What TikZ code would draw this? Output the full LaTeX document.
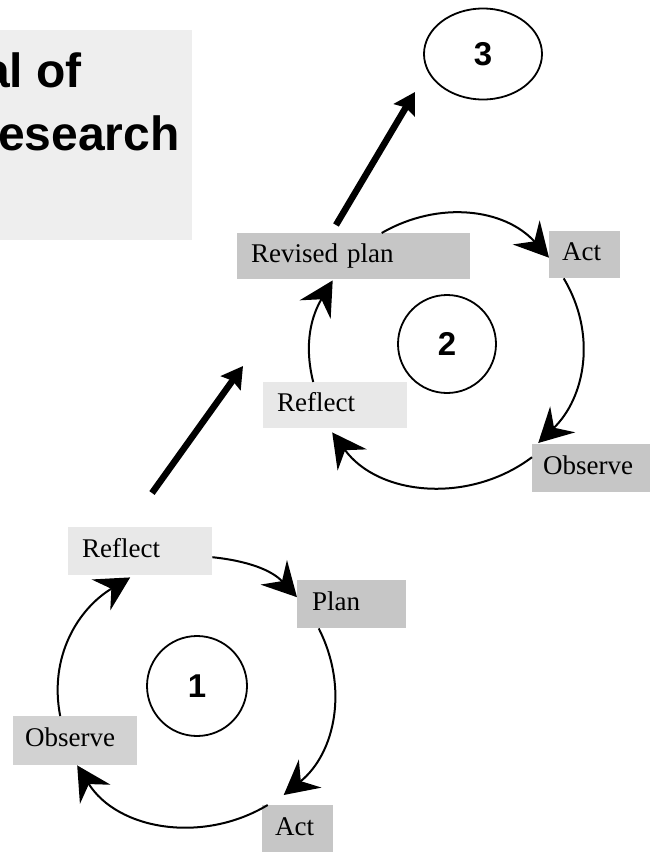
\documentclass[tikz,border=0pt]{standalone}
\usepackage{fontspec}
\setmainfont{Liberation Serif}
\setsansfont{Liberation Sans}
\usetikzlibrary{arrows.meta,shapes.geometric}
\definecolor{midgray}{HTML}{C6C6C6}
\definecolor{lightgray2}{HTML}{E8E8E8}
\definecolor{obsgray}{HTML}{D2D2D2}
\definecolor{titlegray}{HTML}{EEEEEE}
\tikzset{
  x=1pt, y=-1pt,
  lbl/.style={anchor=north west, inner xsep=14pt, inner ysep=0pt, align=left,
    font=\fontsize{27}{30}\selectfont, text height=18pt, text depth=6pt},
  boxA/.style={lbl, fill=midgray},
  boxB/.style={lbl, fill=lightgray2},
  boxC/.style={lbl, fill=obsgray},
  numfont/.style={font=\sffamily\bfseries\fontsize{33}{36}\selectfont},
  num/.style={circle, draw, line width=1.8pt, minimum size=98pt, inner sep=0pt, numfont},
  cyc/.style={line width=2pt, -{Stealth[length=34pt,width=36pt,inset=12pt]}},
  big/.style={line width=6.5pt, -{Stealth[length=21pt,width=24pt,inset=3pt]}},
}
\begin{document}
\begin{tikzpicture}
\useasboundingbox (0,0) rectangle (650,852);
\clip (0,0) rectangle (650,852);
% title panel
\fill[titlegray] (0,30) rectangle (192,240);
\node[anchor=base west, inner sep=0pt, font=\sffamily\bfseries\fontsize{48}{50}\selectfont] (t1) at (-17,87) {al of};
\node[anchor=base west, inner sep=0pt, font=\sffamily\bfseries\fontsize{48}{50}\selectfont] (t2) at (-2,150) {esearch};

% cycle 3
\node[ellipse, draw, line width=1.8pt, minimum width=118pt, minimum height=91pt, inner sep=0pt, numfont] (e3) at (483,54) {3};

% cycle 2
\node[boxA, text width=205pt, minimum height=46pt] (revised) at (237,233) {Revised plan};
\node[boxA, inner xsep=13pt, text width=45pt, minimum height=47pt] (act2) at (549,231) {Act};
\node[boxA, inner xsep=11pt, text width=100pt, minimum height=48pt] (obs2) at (532,444) {Observe};
\node[boxB, text width=116pt, minimum height=46pt] (refl2) at (263,382) {Reflect};
\node[num] (c2) at (447,344) {2};

% cycle 1
\node[boxB, text width=116pt, minimum height=48pt] (refl1) at (68,527) {Reflect};
\node[boxA, inner xsep=15pt, text width=79pt, minimum height=48pt] (plan1) at (297,580) {Plan};
\node[boxC, inner xsep=12pt, text width=100pt, minimum height=49pt] (obs1) at (13,716) {Observe};
\node[boxA, inner xsep=13pt, text width=45pt, minimum height=48pt] (act1) at (262,805) {Act};
\node[num, minimum size=100pt] (c1) at (197,686) {1};

% thick arrows between cycles
\coordinate (m1) at (152,493);
\coordinate (m2) at (243,366);
\coordinate (u1) at (336,225);
\coordinate (u2) at (415,92);
\draw[big] (m1) -- (m2);
\draw[big] (u1) -- (u2);

% cycle 1 arcs
\draw[cyc] ([yshift=-6pt]refl1.east) to[out=-6, in=133] ([yshift=7pt]plan1.west);
\draw[cyc] ([xshift=-33pt]plan1.south) to[out=-63, in=39] ([xshift=-14pt,yshift=10pt]act1.north);
\draw[cyc] ([xshift=-30pt]act1.north) to[out=-149, in=-58] ([xshift=2pt]obs1.south);
\draw[cyc] ([xshift=-15pt]obs1.north) to[out=101, in=211] ([xshift=-10pt,yshift=-2pt]refl1.south);

% cycle 2 arcs
\draw[cyc] ([xshift=28pt]revised.north) to[out=30, in=132] ([yshift=-3pt]act2.west);
\draw[cyc] ([xshift=-21pt]act2.south) to[out=-59, in=44] ([xshift=-55pt,yshift=1pt]obs2.north);
\draw[cyc] ([yshift=11pt]obs2.west) to[out=-143, in=-54] ([xshift=-3pt,yshift=-4pt]refl2.south);
\draw[cyc] ([xshift=-22pt]refl2.north) to[out=104, in=239] ([xshift=-21pt,yshift=-1pt]revised.south);
\end{tikzpicture}
\end{document}
